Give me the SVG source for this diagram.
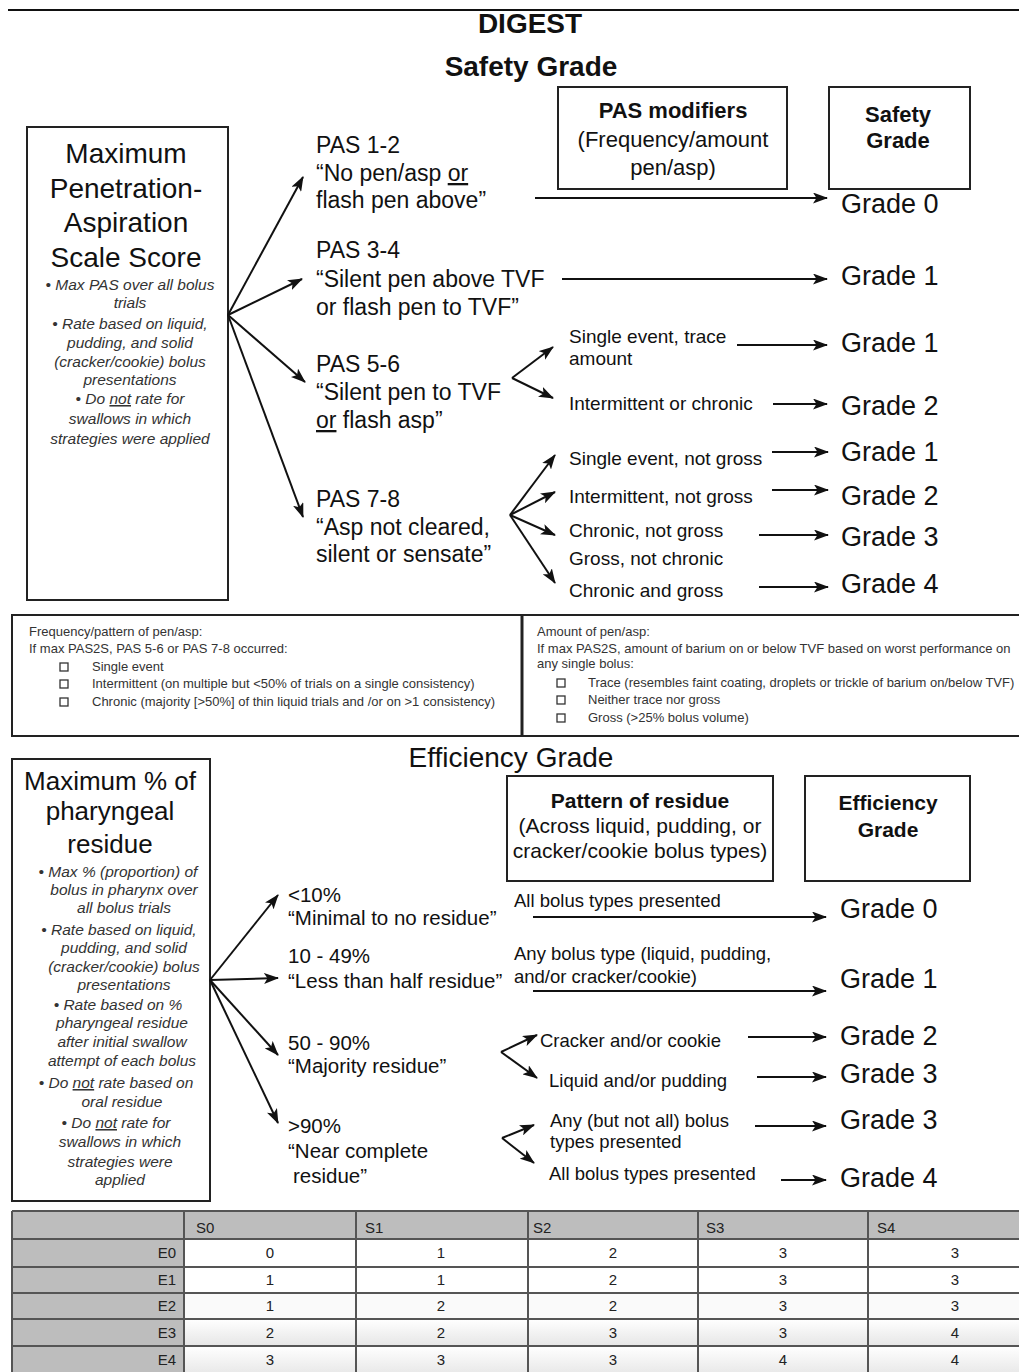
<svg xmlns="http://www.w3.org/2000/svg" width="1019" height="1372" viewBox="0 0 1019 1372">
<defs>
<style>
text{font-family:"Liberation Sans",Arial,Helvetica,sans-serif;fill:#111}
.b{font-weight:bold}
.mid{text-anchor:middle}
.end{text-anchor:end}
.title{font-size:28px;font-weight:bold}
.big{font-size:28px}
.big2{font-size:26px}
.pas{font-size:23px}
.eff{font-size:20.5px}
.hd{font-size:22px}
.hd2{font-size:21px}
.sub{font-size:19px}
.sub2{font-size:18.5px}
.gr{font-size:27px}
.it{font-size:15.5px;font-style:italic;fill:#333}
.fn{font-size:13px;fill:#333}
.tb{font-size:15px;fill:#222}
.box{fill:none;stroke:#222;stroke-width:2}
.cb{fill:#fff;stroke:#333;stroke-width:1.3}
.conn line{stroke:#111;stroke-width:2;fill:none;marker-end:url(#ah)}
.grid{stroke:#555;stroke-width:2;fill:none}
.u{text-decoration:underline}
</style>
<marker id="ah" markerUnits="userSpaceOnUse" markerWidth="15" markerHeight="11" refX="14" refY="5.5" orient="auto" viewBox="0 0 15 11">
<path d="M0,0 L15,5.5 L0,11 L3.5,5.5 z" fill="#111"/>
</marker>
<linearGradient id="rowg" x1="0" y1="0" x2="0" y2="1">
<stop offset="0" stop-color="#ffffff"/>
<stop offset="1" stop-color="#e6e6e6"/>
</linearGradient>
</defs>
<rect width="1019" height="1372" fill="#fff"/>
<line x1="8" y1="10" x2="1019" y2="10" stroke="#111" stroke-width="2"/>

<g id="titles">
<text x="530" y="33" class="title mid">DIGEST</text>
<text x="531" y="76" class="title mid">Safety Grade</text>
</g>

<g id="node-pas-box">
<rect x="27" y="127" width="201" height="473" class="box"/>
<text x="126" y="163" class="big mid">Maximum</text>
<text x="126" y="198" class="big mid">Penetration-</text>
<text x="126" y="232" class="big mid">Aspiration</text>
<text x="126" y="267" class="big mid">Scale Score</text>
<text x="130" y="290" class="it mid">• Max PAS over all bolus</text>
<text x="130" y="308" class="it mid">trials</text>
<text x="130" y="329" class="it mid">• Rate based on liquid,</text>
<text x="130" y="348" class="it mid">pudding, and solid</text>
<text x="130" y="367" class="it mid">(cracker/cookie) bolus</text>
<text x="130" y="385" class="it mid">presentations</text>
<text x="130" y="404" class="it mid">• Do <tspan class="u">not</tspan> rate for</text>
<text x="130" y="424" class="it mid">swallows in which</text>
<text x="130" y="444" class="it mid">strategies were applied</text>
</g>

<g id="node-pas12">
<text x="316" y="153" class="pas">PAS 1-2</text>
<text x="316" y="181" class="pas">“No pen/asp <tspan class="u">or</tspan></text>
<text x="316" y="208" class="pas">flash pen above”</text>
</g>
<g id="node-pas34">
<text x="316" y="258" class="pas">PAS 3-4</text>
<text x="316" y="287" class="pas">“Silent pen above TVF</text>
<text x="316" y="315" class="pas">or flash pen to TVF”</text>
</g>
<g id="node-pas56">
<text x="316" y="372" class="pas">PAS 5-6</text>
<text x="316" y="400" class="pas">“Silent pen to TVF</text>
<text x="316" y="428" class="pas"><tspan class="u">or</tspan> flash asp”</text>
</g>
<g id="node-pas78">
<text x="316" y="507" class="pas">PAS 7-8</text>
<text x="316" y="535" class="pas">“Asp not cleared,</text>
<text x="316" y="562" class="pas">silent or sensate”</text>
</g>

<g id="node-pas-modifiers">
<rect x="558" y="87" width="229" height="102" class="box"/>
<text x="673" y="118" class="hd b mid">PAS modifiers</text>
<text x="673" y="147" class="hd mid">(Frequency/amount</text>
<text x="673" y="175" class="hd mid">pen/asp)</text>
</g>
<g id="node-safety-grade-head">
<rect x="829" y="87" width="141" height="102" class="box"/>
<text x="898" y="122" class="hd b mid">Safety</text>
<text x="898" y="148" class="hd b mid">Grade</text>
</g>

<g id="node-safety-modifiers">
<text x="569" y="343" class="sub">Single event, trace</text>
<text x="569" y="365" class="sub">amount</text>
<text x="569" y="410" class="sub">Intermittent or chronic</text>
<text x="569" y="465" class="sub">Single event, not gross</text>
<text x="569" y="503" class="sub">Intermittent, not gross</text>
<text x="569" y="537" class="sub">Chronic, not gross</text>
<text x="569" y="565" class="sub">Gross, not chronic</text>
<text x="569" y="597" class="sub">Chronic and gross</text>
</g>

<g id="node-safety-grades">
<text x="841" y="213" class="gr">Grade 0</text>
<text x="841" y="285" class="gr">Grade 1</text>
<text x="841" y="352" class="gr">Grade 1</text>
<text x="841" y="415" class="gr">Grade 2</text>
<text x="841" y="461" class="gr">Grade 1</text>
<text x="841" y="505" class="gr">Grade 2</text>
<text x="841" y="546" class="gr">Grade 3</text>
<text x="841" y="593" class="gr">Grade 4</text>
</g>

<g id="node-footnotes">
<rect x="12" y="615" width="1016" height="121" class="box"/>
<line x1="522" y1="615" x2="522" y2="736" stroke="#222" stroke-width="3"/>
<text x="29" y="636" class="fn">Frequency/pattern of pen/asp:</text>
<text x="29" y="653" class="fn">If max PAS2S, PAS 5-6 or PAS 7-8 occurred:</text>
<rect x="60" y="663" width="8" height="8" class="cb"/>
<text x="92" y="671" class="fn">Single event</text>
<rect x="60" y="680" width="8" height="8" class="cb"/>
<text x="92" y="688" class="fn">Intermittent (on multiple but &lt;50% of trials on a single consistency)</text>
<rect x="60" y="698" width="8" height="8" class="cb"/>
<text x="92" y="706" class="fn">Chronic (majority [&gt;50%] of thin liquid trials  and /or on &gt;1 consistency)</text>
<text x="537" y="636" class="fn">Amount of pen/asp:</text>
<text x="537" y="653" class="fn">If max PAS2S, amount of barium on or below TVF based on worst performance on</text>
<text x="537" y="668" class="fn">any single bolus:</text>
<rect x="557" y="679" width="8" height="8" class="cb"/>
<text x="588" y="687" class="fn">Trace (resembles faint coating, droplets or trickle of barium on/below TVF)</text>
<rect x="557" y="696" width="8" height="8" class="cb"/>
<text x="588" y="704" class="fn">Neither trace nor gross</text>
<rect x="557" y="714" width="8" height="8" class="cb"/>
<text x="588" y="722" class="fn">Gross (&gt;25% bolus volume)</text>
</g>

<g id="node-eff-title">
<text x="511" y="767" class="big mid">Efficiency Grade</text>
</g>

<g id="node-residue-box">
<rect x="12" y="759" width="198" height="442" class="box"/>
<text x="110" y="790" class="big2 mid">Maximum % of</text>
<text x="110" y="820" class="big2 mid">pharyngeal</text>
<text x="110" y="853" class="big2 mid">residue</text>
<text x="118" y="877" class="it mid">• Max % (proportion) of</text>
<text x="124" y="895" class="it mid">bolus in pharynx over</text>
<text x="124" y="913" class="it mid">all bolus trials</text>
<text x="119" y="935" class="it mid">• Rate based on liquid,</text>
<text x="124" y="953" class="it mid">pudding, and solid</text>
<text x="124" y="972" class="it mid">(cracker/cookie) bolus</text>
<text x="124" y="990" class="it mid">presentations</text>
<text x="118" y="1010" class="it mid">• Rate based on %</text>
<text x="122" y="1028" class="it mid">pharyngeal residue</text>
<text x="122" y="1047" class="it mid">after initial swallow</text>
<text x="122" y="1066" class="it mid">attempt of each bolus</text>
<text x="116" y="1088" class="it mid">• Do <tspan class="u">not</tspan> rate based on</text>
<text x="122" y="1107" class="it mid">oral residue</text>
<text x="116" y="1128" class="it mid">• Do <tspan class="u">not</tspan> rate for</text>
<text x="120" y="1147" class="it mid">swallows in which</text>
<text x="120" y="1167" class="it mid">strategies were</text>
<text x="120" y="1185" class="it mid">applied</text>
</g>

<g id="node-res-lt10">
<text x="288" y="902" class="eff">&lt;10%</text>
<text x="288" y="925" class="eff">“Minimal to no residue”</text>
</g>
<g id="node-res-10-49">
<text x="288" y="963" class="eff">10 - 49%</text>
<text x="288" y="988" class="eff">“Less than half residue”</text>
</g>
<g id="node-res-50-90">
<text x="288" y="1050" class="eff">50 - 90%</text>
<text x="288" y="1073" class="eff">“Majority residue”</text>
</g>
<g id="node-res-gt90">
<text x="288" y="1133" class="eff">&gt;90%</text>
<text x="288" y="1158" class="eff">“Near complete</text>
<text x="293" y="1183" class="eff">residue”</text>
</g>

<g id="node-pattern-head">
<rect x="507" y="776" width="266" height="105" class="box"/>
<text x="640" y="808" class="hd2 b mid">Pattern of residue</text>
<text x="640" y="833" class="hd2 mid">(Across liquid, pudding, or</text>
<text x="640" y="858" class="hd2 mid">cracker/cookie bolus types)</text>
</g>
<g id="node-eff-grade-head">
<rect x="805" y="776" width="165" height="105" class="box"/>
<text x="888" y="810" class="hd2 b mid">Efficiency</text>
<text x="888" y="837" class="hd2 b mid">Grade</text>
</g>

<g id="node-patterns">
<text x="514" y="907" class="sub2">All bolus types presented</text>
<text x="514" y="960" class="sub2">Any bolus type (liquid, pudding,</text>
<text x="514" y="983" class="sub2">and/or cracker/cookie)</text>
<text x="540" y="1047" class="sub2">Cracker and/or cookie</text>
<text x="549" y="1087" class="sub2">Liquid and/or pudding</text>
<text x="550" y="1127" class="sub2">Any (but not all) bolus</text>
<text x="550" y="1148" class="sub2">types presented</text>
<text x="549" y="1180" class="sub2">All bolus types presented</text>
</g>

<g id="node-eff-grades">
<text x="840" y="918" class="gr">Grade 0</text>
<text x="840" y="988" class="gr">Grade 1</text>
<text x="840" y="1045" class="gr">Grade 2</text>
<text x="840" y="1083" class="gr">Grade 3</text>
<text x="840" y="1129" class="gr">Grade 3</text>
<text x="840" y="1187" class="gr">Grade 4</text>
</g>

<g id="connectors" class="conn">
<line x1="228" y1="315" x2="303" y2="177"/>
<line x1="228" y1="315" x2="302" y2="279"/>
<line x1="228" y1="315" x2="305" y2="382"/>
<line x1="228" y1="315" x2="303" y2="517"/>
<line x1="535" y1="198" x2="827" y2="198"/>
<line x1="562" y1="279" x2="827" y2="279"/>
<line x1="512" y1="378" x2="553" y2="347"/>
<line x1="512" y1="378" x2="553" y2="398"/>
<line x1="737" y1="345" x2="827" y2="345"/>
<line x1="773" y1="404" x2="827" y2="404"/>
<line x1="510" y1="515" x2="555" y2="455"/>
<line x1="510" y1="515" x2="555" y2="492"/>
<line x1="510" y1="515" x2="555" y2="535"/>
<line x1="510" y1="515" x2="555" y2="583"/>
<line x1="772" y1="452" x2="828" y2="452"/>
<line x1="772" y1="490" x2="828" y2="490"/>
<line x1="759" y1="535" x2="828" y2="535"/>
<line x1="759" y1="587" x2="828" y2="587"/>
<line x1="210" y1="980" x2="278" y2="895"/>
<line x1="210" y1="980" x2="278" y2="978"/>
<line x1="210" y1="980" x2="278" y2="1055"/>
<line x1="210" y1="980" x2="278" y2="1123"/>
<line x1="533" y1="917" x2="826" y2="917"/>
<line x1="533" y1="991" x2="826" y2="991"/>
<line x1="501" y1="1052" x2="537" y2="1035"/>
<line x1="501" y1="1052" x2="537" y2="1078"/>
<line x1="748" y1="1037" x2="826" y2="1037"/>
<line x1="757" y1="1077" x2="826" y2="1077"/>
<line x1="502" y1="1138" x2="534" y2="1125"/>
<line x1="502" y1="1138" x2="534" y2="1163"/>
<line x1="755" y1="1126" x2="826" y2="1126"/>
<line x1="781" y1="1180" x2="826" y2="1180"/>
</g>

<g id="node-table">
<rect x="12" y="1211" width="1020" height="28" fill="#bdbdbd"/>
<rect x="12" y="1239" width="172" height="140" fill="#bdbdbd"/>
<rect x="184" y="1239" width="848" height="54" fill="#fff"/>
<rect x="184" y="1293" width="848" height="26" fill="#fafafa"/>
<rect x="184" y="1319" width="848" height="27" fill="url(#rowg)"/>
<rect x="184" y="1346" width="848" height="30" fill="url(#rowg)"/>
<path class="grid" d="M12,1211 H1030 M12,1239 H1030 M12,1267 H1030 M12,1293 H1030 M12,1319 H1030 M12,1346 H1030 M12,1211 V1380 M184,1211 V1380 M356,1211 V1380 M528,1211 V1380 M698,1211 V1380 M868,1211 V1380"/>
<text x="196" y="1233" class="tb">S0</text>
<text x="365" y="1233" class="tb">S1</text>
<text x="533" y="1233" class="tb">S2</text>
<text x="706" y="1233" class="tb">S3</text>
<text x="877" y="1233" class="tb">S4</text>
<text x="176" y="1258" class="tb end">E0</text>
<text x="176" y="1285" class="tb end">E1</text>
<text x="176" y="1311" class="tb end">E2</text>
<text x="176" y="1338" class="tb end">E3</text>
<text x="176" y="1365" class="tb end">E4</text>
<text x="270" y="1258" class="tb mid">0</text><text x="441" y="1258" class="tb mid">1</text><text x="613" y="1258" class="tb mid">2</text><text x="783" y="1258" class="tb mid">3</text><text x="955" y="1258" class="tb mid">3</text>
<text x="270" y="1285" class="tb mid">1</text><text x="441" y="1285" class="tb mid">1</text><text x="613" y="1285" class="tb mid">2</text><text x="783" y="1285" class="tb mid">3</text><text x="955" y="1285" class="tb mid">3</text>
<text x="270" y="1311" class="tb mid">1</text><text x="441" y="1311" class="tb mid">2</text><text x="613" y="1311" class="tb mid">2</text><text x="783" y="1311" class="tb mid">3</text><text x="955" y="1311" class="tb mid">3</text>
<text x="270" y="1338" class="tb mid">2</text><text x="441" y="1338" class="tb mid">2</text><text x="613" y="1338" class="tb mid">3</text><text x="783" y="1338" class="tb mid">3</text><text x="955" y="1338" class="tb mid">4</text>
<text x="270" y="1365" class="tb mid">3</text><text x="441" y="1365" class="tb mid">3</text><text x="613" y="1365" class="tb mid">3</text><text x="783" y="1365" class="tb mid">4</text><text x="955" y="1365" class="tb mid">4</text>
</g>
</svg>
